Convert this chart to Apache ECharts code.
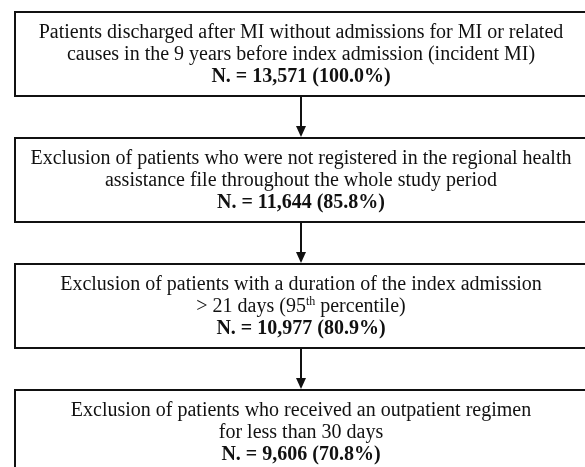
<!DOCTYPE html>
<html>
<head>
<meta charset="utf-8">
<script src="https://cdn.jsdelivr.net/npm/echarts@6/dist/echarts.min.js"></script>
<style>
html,body{margin:0;padding:0;background:#fff;}
#main{width:585px;height:467px;}
</style>
</head>
<body>
<div id="main"></div>
<script>
// Flowchart steps (top to bottom)
var steps = [0, 1, 2, 3];
var descLines = [
  ["Patients discharged after MI without admissions for MI or related", "causes in the 9 years before index admission (incident MI)"],
  ["Exclusion of patients who were not registered in the regional health", "assistance file throughout the whole study period"],
  ["Exclusion of patients with a duration of the index admission", "> 21 days (95{sup|th} percentile)"],
  ["Exclusion of patients who received an outpatient regimen", "for less than 30 days"]
];
var counts = ["13,571", "11,644", "10,977", "9,606"];
var percents = ["100.0%", "85.8%", "80.9%", "70.8%"];

var chart = echarts.init(document.getElementById('main'), null, {renderer: 'canvas'});
var HALF = 0.333; // half box height in step units
var FONT = '"Liberation Serif", "Times New Roman", serif';

function renderItem(params, api) {
  var i = api.value(0);
  var tl = api.coord([0, i - HALF]);
  var br = api.coord([1, i + HALF]);
  var cx = (tl[0] + br[0]) / 2;
  var cy = (tl[1] + br[1]) / 2;
  var children = [];
  children.push({
    type: 'rect',
    shape: {x: tl[0], y: tl[1], width: br[0] - tl[0], height: br[1] - tl[1]},
    style: {fill: '#fff', stroke: '#111', lineWidth: 2}
  });
  var txt = descLines[i].join('\n') + '\n{b|N. = ' + counts[i] + ' (' + percents[i] + ')}';
  children.push({
    type: 'text',
    x: cx, y: cy + 1,
    style: {
      text: txt,
      align: 'center', verticalAlign: 'middle',
      font: '20px ' + FONT,
      fill: '#111',
      lineHeight: 22,
      rich: {
        b: {fontWeight: 'bold', fontSize: 20, fontFamily: FONT, lineHeight: 22, fill: '#111'},
        sup: {fontSize: 12, fontFamily: FONT, verticalAlign: 'top', lineHeight: 22, padding: [0, 0, 9, 0], fill: '#111'}
      }
    }
  });
  if (i < steps.length - 1) {
    var nextTop = api.coord([0.5, i + 1 - HALF]);
    var ax = nextTop[0];
    var y0 = br[1] + 1;
    var y1 = nextTop[1] - 1;
    children.push({
      type: 'line',
      shape: {x1: ax, y1: y0, x2: ax, y2: y1 - 9},
      style: {stroke: '#111', lineWidth: 2}
    });
    children.push({
      type: 'polygon',
      shape: {points: [[ax - 5, y1 - 11], [ax + 5, y1 - 11], [ax, y1]]},
      style: {fill: '#111'}
    });
  }
  return {type: 'group', children: children};
}

// grid spans the whole canvas; axis ranges place step 0 centred at y=54 with a 126px pitch
chart.setOption({
  animation: false,
  backgroundColor: '#fff',
  grid: {left: 15, right: 0, top: 0, bottom: 0, outerBoundsMode: 'none', containLabel: false},
  xAxis: {type: 'value', min: 0, max: 0.9965, show: false},
  yAxis: {type: 'value', min: -0.4286, max: 3.2778, inverse: true, show: false},
  series: [{
    type: 'custom',
    renderItem: renderItem,
    data: steps.map(function (s) { return [s]; }),
    encode: {x: -1, y: 0},
    clip: false
  }]
});
</script>
</body>
</html>
